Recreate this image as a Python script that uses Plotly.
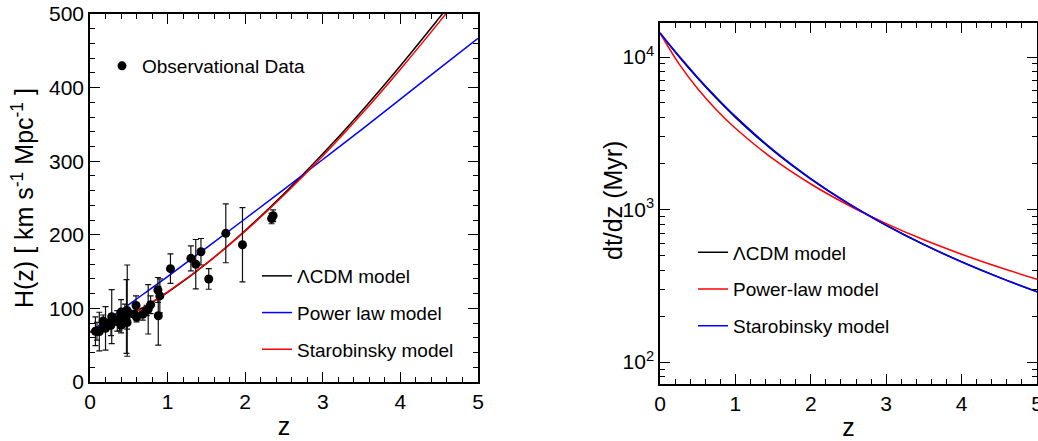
import plotly.graph_objects as go

# ---- Observational H(z) data (z, H, sigma) ----
obs_z = [0.07, 0.09, 0.12, 0.17, 0.179, 0.199, 0.2, 0.24, 0.27, 0.28, 0.35, 0.352, 0.3802,
         0.4, 0.4004, 0.4247, 0.43, 0.44, 0.4497, 0.47, 0.4783, 0.48, 0.57, 0.593, 0.6,
         0.68, 0.73, 0.75, 0.781, 0.875, 0.88, 0.9, 1.037, 1.3, 1.363, 1.43, 1.53, 1.75,
         1.965, 2.34, 2.36]
obs_H = [69, 69, 68.6, 83, 75, 75, 72.9, 79.7, 77, 88.8, 84.4, 83, 83,
         95, 77, 87.1, 86.5, 82.6, 92.8, 89, 80.9, 97, 92.4, 104, 87.9,
         92, 97.3, 98.8, 105, 125, 90, 117, 154, 168, 160, 177, 140, 202,
         186.5, 222, 226]
obs_err = [19.6, 12, 26.2, 8, 4, 5, 29.6, 2.7, 14, 36.6, 7, 14, 13.5,
           17, 10.2, 11.2, 3.7, 7.8, 12.9, 50, 9, 62, 4.5, 13, 6.1,
           8, 7, 33.6, 12, 17, 40, 23, 20, 17, 33.6, 18, 14, 40,
           50.4, 7, 8]

# ---- Model curves ----
z_grid = [0, 0.25, 0.5, 0.75, 1, 1.5, 2, 2.5, 3, 3.5, 4, 4.5, 5]

H_lcdm = [68, 77.5, 89.9, 104.7, 121.6, 160.8, 205.9, 255.8, 310, 368, 429.8, 494.7, 561]
H_power = [68, 86.4, 105.2, 124.2, 143.3, 182.3, 221.8, 261.8, 302.3, 343, 384.3, 425.8, 467]
H_staro = [68, 78, 90.5, 105.5, 122.5, 161, 205, 254, 307, 364, 425, 489, 555]

dtdz_lcdm = [14380, 10093, 7255, 5338, 4021, 2432, 1584, 1093, 789, 590, 455, 359, 289]
dtdz_power = [14380, 9050, 6198, 4500, 3410, 2146, 1470, 1067, 809, 633, 509, 418, 349]
dtdz_staro = [14380, 10180, 7350, 5420, 4080, 2460, 1595, 1095, 788, 588, 453, 358, 289]

BLACK, BLUE, RED = "#000000", "#0000ff", "#ff0000"
FONT = "Liberation Sans, Arial, Helvetica, sans-serif"

fig = go.Figure()

# Left panel
for name, vals, col in [("ΛCDM model", H_lcdm, BLACK),
                        ("Power law model", H_power, BLUE),
                        ("Starobinsky model", H_staro, RED)]:
    fig.add_trace(go.Scatter(x=z_grid, y=vals, mode="lines", name=name,
                             line=dict(color=col, width=1.5, shape="spline"),
                             xaxis="x", yaxis="y", legend="legend2",
                             legendgroup="L" + name))

fig.add_trace(go.Scatter(x=obs_z, y=obs_H, mode="markers", name="Observational Data",
                         marker=dict(color="black", size=9),
                         error_y=dict(type="data", array=obs_err, color="#111111",
                                      thickness=1.2, width=3),
                         xaxis="x", yaxis="y", legend="legend"))

# Right panel
for name, vals, col in [("ΛCDM model", dtdz_lcdm, BLACK),
                        ("Power-law model", dtdz_power, RED),
                        ("Starobinsky model", dtdz_staro, BLUE)]:
    fig.add_trace(go.Scatter(x=z_grid, y=vals, mode="lines", name=name,
                             line=dict(color=col, width=1.5, shape="spline"),
                             xaxis="x2", yaxis="y2", legend="legend3",
                             legendgroup="R" + name))

W, Hh = 1038, 441


def px(x):
    return x / W


def py(y):
    return (Hh - y) / Hh


axis_common = dict(showline=True, linecolor="black", linewidth=1.5, mirror="allticks",
                   ticks="inside", ticklen=10, tickwidth=1, tickcolor="black",
                   showgrid=False, zeroline=False, automargin=False,
                   ticklabeloverflow="allow",
                   tickfont=dict(size=21, color="black", family=FONT))

fig.update_layout(
    template="none",
    width=W, height=Hh,
    margin=dict(l=0, r=0, t=0, b=0, pad=0),
    paper_bgcolor="white", plot_bgcolor="white",
    font=dict(family=FONT, color="black"),
    xaxis=dict(domain=[px(90), px(478)], range=[0, 5], dtick=1, tick0=0,
               minor=dict(ticks="inside", ticklen=5, dtick=0.2, tickcolor="black"),
               title=dict(text="z", font=dict(size=25), standoff=6),
               anchor="y", **axis_common),
    yaxis=dict(domain=[py(382), py(14)], range=[0, 500], dtick=100, tick0=0,
               minor=dict(ticks="inside", ticklen=5, dtick=20, tickcolor="black"),
               title=dict(text="H(z) [ km s<sup>-1</sup> Mpc<sup>-1</sup> ]",
                          font=dict(size=25), standoff=8),
               anchor="x", **axis_common),
    xaxis2=dict(domain=[px(660), px(1037)], range=[0, 5], dtick=1, tick0=0,
                minor=dict(ticks="inside", ticklen=5, dtick=0.2, tickcolor="black"),
                title=dict(text="z", font=dict(size=25), standoff=6),
                anchor="y2", **axis_common),
    yaxis2=dict(domain=[py(384), py(23)], type="log",
                range=[1.856, 4.223],
                tickvals=[100, 1000, 10000],
                ticktext=["10<sup>2</sup>", "10<sup>3</sup>", "10<sup>4</sup>"],
                minor=dict(ticks="inside", ticklen=5, tickcolor="black",
                           tickvals=[80, 90, 200, 300, 400, 500, 600, 700, 800, 900,
                                     2000, 3000, 4000, 5000, 6000, 7000, 8000, 9000]),
                anchor="x2", **axis_common),
    legend=dict(x=px(102), y=py(66), xanchor="left", yanchor="middle",
                font=dict(size=19), bgcolor="rgba(0,0,0,0)", borderwidth=0),
    legend2=dict(x=px(257), y=py(313), xanchor="left", yanchor="middle",
                 font=dict(size=19), bgcolor="rgba(0,0,0,0)", borderwidth=0,
                 tracegroupgap=9),
    legend3=dict(x=px(693), y=py(289.5), xanchor="left", yanchor="middle",
                 font=dict(size=19), bgcolor="rgba(0,0,0,0)", borderwidth=0,
                 tracegroupgap=9),
    showlegend=True,
    annotations=[dict(text="dt/dz (Myr)", textangle=-90, showarrow=False,
                      xref="paper", yref="paper", x=px(613), y=py(201),
                      xanchor="center", yanchor="middle",
                      font=dict(size=25, family=FONT, color="black"))],
)

fig.write_html("out.html",
               config={"displayModeBar": False},
               post_script="document.body.style.margin='0';"
                           "document.body.style.overflow='hidden';")
